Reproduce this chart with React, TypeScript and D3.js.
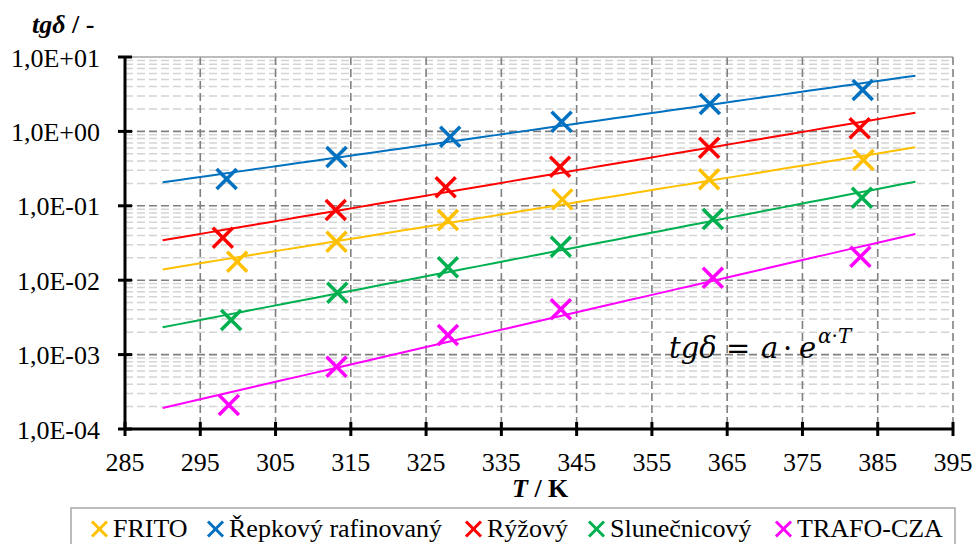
import React from "react";
import * as d3 from "d3";

const seriesNames = ["FRITO", "Řepkový rafinovaný", "Rýžový", "Slunečnicový", "TRAFO-CZA"];
const seriesColors = ["#FFC000", "#0070C0", "#FF0000", "#00B050", "#FF00FF"];

// measured loss factor tgδ vs temperature T [K]
const fritoT = [299.9, 313.1, 327.9, 343.1, 362.6, 383.1];
const fritoTg = [0.0177, 0.0329, 0.0644, 0.122, 0.227, 0.413];
const repkovyT = [298.5, 313.1, 328.2, 343.0, 362.7, 383.0];
const repkovyTg = [0.229, 0.453, 0.849, 1.35, 2.33, 3.6];
const ryzovyT = [298.0, 313.0, 327.6, 342.8, 362.6, 382.6];
const ryzovyTg = [0.0372, 0.0879, 0.177, 0.336, 0.604, 1.1];
const slunecnicovyT = [299.1, 313.2, 327.9, 342.9, 363.1, 382.9];
const slunecnicovyTg = [0.00292, 0.00679, 0.0149, 0.0282, 0.0665, 0.1285];
const trafoT = [298.8, 313.1, 327.9, 342.9, 363.1, 382.7];
const trafoTg = [0.00021, 0.000687, 0.00183, 0.00406, 0.0108, 0.0207];

// exponential trend lines tgδ = a·e^(α·T), given by their values at the ends of the range
const trendRange = [290, 390];
const trendStart = [0.01397, 0.207, 0.0344, 0.00233, 0.000192];
const trendEnd = [0.611, 5.61, 1.78, 0.211, 0.0418];

const xTicks = [285, 295, 305, 315, 325, 335, 345, 355, 365, 375, 385, 395];
const yTickValues = [1e-4, 1e-3, 1e-2, 1e-1, 1, 10];
const yTickLabels = ["1,0E-04", "1,0E-03", "1,0E-02", "1,0E-01", "1,0E+00", "1,0E+01"];

const temps = [fritoT, repkovyT, ryzovyT, slunecnicovyT, trafoT];
const values = [fritoTg, repkovyTg, ryzovyTg, slunecnicovyTg, trafoTg];

const FONT = "'Liberation Serif', 'Times New Roman', serif";

const legendTextX = [113, 229, 487, 610, 797];

function Cross({ cx, cy, r, color, w }: { cx: number; cy: number; r: number; color: string; w: number }) {
  return (
    <g stroke={color} strokeWidth={w} strokeLinecap="butt">
      <line x1={cx - r} y1={cy - r} x2={cx + r} y2={cy + r} />
      <line x1={cx - r} y1={cy + r} x2={cx + r} y2={cy - r} />
    </g>
  );
}

export default function App() {
  const left = 125, right = 953, top = 57, bottom = 429;
  const x = d3.scaleLinear().domain([285, 395]).range([left, right]);
  const y = d3.scaleLog().domain([1e-4, 10]).range([bottom, top]);

  const minor: number[] = [];
  for (let e = -4; e < 1; e++) {
    for (let m = 2; m <= 9; m++) minor.push(m * Math.pow(10, e));
  }

  const line = d3
    .line<number>()
    .x((t) => x(t))
    .y((v, i) => 0);

  const trendPath = (k: number) => {
    const [t0, t1] = trendRange;
    const alpha = Math.log(trendEnd[k] / trendStart[k]) / (t1 - t0);
    const a = trendStart[k] / Math.exp(alpha * t0);
    const ts = d3.range(t0, t1 + 0.001, 2);
    return d3
      .line<number>()
      .x((t) => x(t))
      .y((t) => y(a * Math.exp(alpha * t)))(ts) as string;
  };
  void line;

  return (
    <svg
      width={975}
      height={544}
      style={{ position: "absolute", left: 0, top: 0, background: "#fff" }}
      fontFamily={FONT}
    >
      {/* minor horizontal grid */}
      {minor.map((v, i) => (
        <line key={"mn" + i} x1={left} x2={right} y1={y(v)} y2={y(v)} stroke="#d4d4d4" strokeWidth={1.5} strokeDasharray="8,4" />
      ))}
      {/* major horizontal grid */}
      {yTickValues.slice(1, -1).map((v, i) => (
        <line key={"mj" + i} x1={left} x2={right} y1={y(v)} y2={y(v)} stroke="#808080" strokeWidth={1.6} strokeDasharray="8,4" />
      ))}
      {/* vertical grid */}
      {xTicks.slice(1).map((t, i) => (
        <line key={"vg" + i} x1={x(t)} x2={x(t)} y1={top} y2={bottom} stroke="#808080" strokeWidth={1.6} strokeDasharray="8,4" />
      ))}
      <line x1={left} x2={right} y1={top} y2={top} stroke="#a6a6a6" strokeWidth={1.5} />

      {/* trend lines */}
      {seriesNames.map((_, k) => (
        <path key={"tr" + k} d={trendPath(k)} fill="none" stroke={seriesColors[k]} strokeWidth={2} />
      ))}

      {/* markers */}
      {seriesNames.map((_, k) =>
        temps[k].map((t, i) => (
          <Cross key={"m" + k + "-" + i} cx={x(t)} cy={y(values[k][i])} r={10} color={seriesColors[k]} w={3.5} />
        ))
      )}

      {/* axes */}
      <line x1={left} x2={left} y1={top} y2={bottom} stroke="#000" strokeWidth={3} />
      <line x1={left} x2={right} y1={bottom} y2={bottom} stroke="#000" strokeWidth={3} />
      {yTickValues.map((v, i) => (
        <g key={"yt" + i}>
          <line x1={left - 7} x2={left + 7} y1={y(v)} y2={y(v)} stroke="#000" strokeWidth={3} />
          <text x={100} y={y(v) + 9.5} textAnchor="end" fontSize={26} fill="#000">
            {yTickLabels[i]}
          </text>
        </g>
      ))}
      {xTicks.map((t, i) => (
        <g key={"xt" + i}>
          <line x1={x(t)} x2={x(t)} y1={bottom - 7} y2={bottom + 7} stroke="#000" strokeWidth={3} />
          <text x={x(t)} y={471} textAnchor="middle" fontSize={26} fill="#000">
            {t}
          </text>
        </g>
      ))}

      {/* axis titles */}
      <text x={32} y={33} fontSize={26} fontWeight="bold" fill="#000">
        <tspan fontStyle="italic">tgδ</tspan>
        <tspan> / -</tspan>
      </text>
      <text x={512} y={497} fontSize={26} fontWeight="bold" fill="#000">
        <tspan fontStyle="italic">T</tspan>
        <tspan> / K</tspan>
      </text>

      {/* model equation */}
      <g fontFamily="'DejaVu Serif', serif" fill="#000">
        <text x={669} y={358} fontSize={29} fontStyle="italic">tgδ</text>
        <text x={726} y={358} fontSize={29}>=</text>
        <text x={761} y={358} fontSize={29} fontStyle="italic">a</text>
        <text x={783} y={358} fontSize={29}>·</text>
        <text x={799} y={358} fontSize={29} fontStyle="italic">e</text>
        <text x={818} y={343} fontSize={20}>
          <tspan fontStyle="italic">α</tspan>
          <tspan>·</tspan>
          <tspan fontStyle="italic">T</tspan>
        </text>
      </g>

      {/* legend */}
      <rect x={71} y={508} width={884} height={44} fill="#fff" stroke="#a6a6a6" strokeWidth={1.5} />
      {seriesNames.map((name, k) => (
        <g key={"lg" + k}>
          <Cross cx={legendTextX[k] - 13.5} cy={529} r={7.5} color={seriesColors[k]} w={3} />
          <text x={legendTextX[k]} y={537} fontSize={26} fill="#000">
            {name}
          </text>
        </g>
      ))}
    </svg>
  );
}
